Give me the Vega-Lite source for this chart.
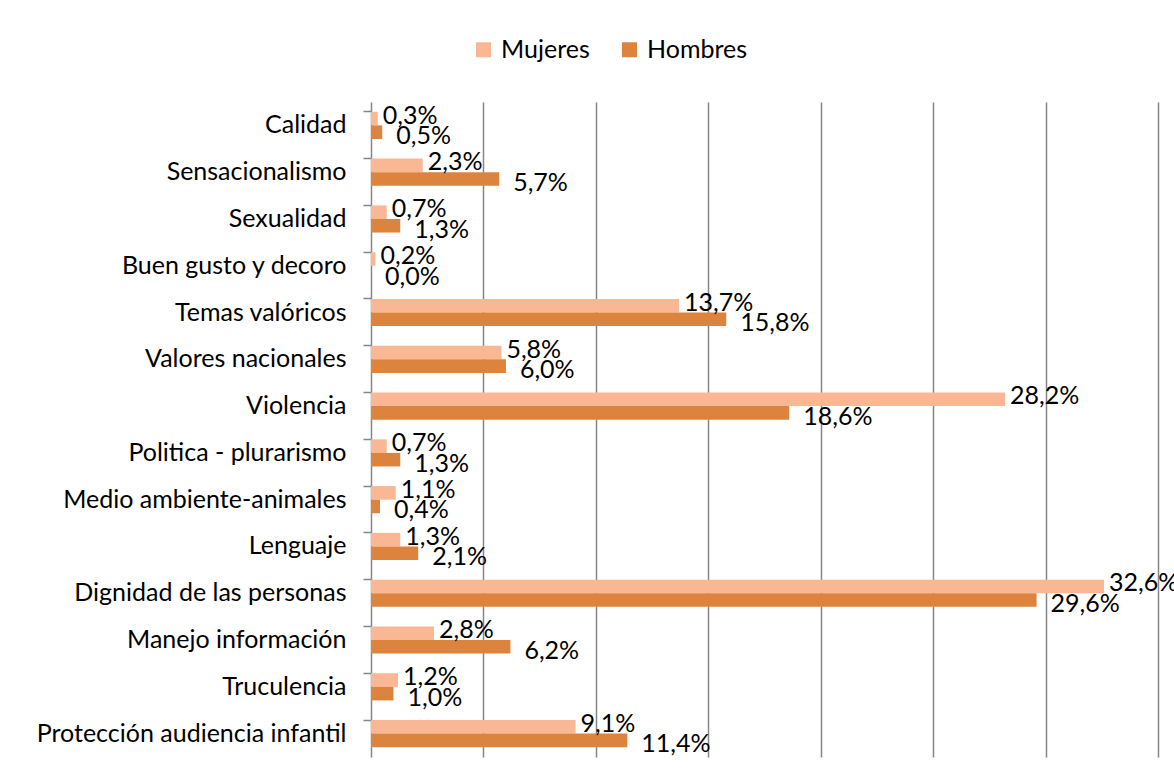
{
  "$schema": "https://vega.github.io/schema/vega-lite/v6.json",
  "autosize": {"type": "none"},
  "width": 787,
  "height": 655,
  "padding": {"left": 371, "top": 102, "right": 16, "bottom": 23},
  "background": "white",
  "config": {
    "view": {"stroke": null},
    "font": "Lato",
    "axis": {"labelFont": "Lato", "titleFont": "Lato"},
    "legend": {"labelFont": "Lato"}
  },
  "data": {
    "values": [
      {"categoria": "Calidad", "sexo": "Mujeres", "valor": 0.3, "etiqueta": "0,3%"},
      {"categoria": "Calidad", "sexo": "Hombres", "valor": 0.5, "etiqueta": "0,5%"},
      {"categoria": "Sensacionalismo", "sexo": "Mujeres", "valor": 2.3, "etiqueta": "2,3%"},
      {"categoria": "Sensacionalismo", "sexo": "Hombres", "valor": 5.7, "etiqueta": "5,7%"},
      {"categoria": "Sexualidad", "sexo": "Mujeres", "valor": 0.7, "etiqueta": "0,7%"},
      {"categoria": "Sexualidad", "sexo": "Hombres", "valor": 1.3, "etiqueta": "1,3%"},
      {"categoria": "Buen gusto y decoro", "sexo": "Mujeres", "valor": 0.2, "etiqueta": "0,2%"},
      {"categoria": "Buen gusto y decoro", "sexo": "Hombres", "valor": 0.0, "etiqueta": "0,0%"},
      {"categoria": "Temas valóricos", "sexo": "Mujeres", "valor": 13.7, "etiqueta": "13,7%"},
      {"categoria": "Temas valóricos", "sexo": "Hombres", "valor": 15.8, "etiqueta": "15,8%"},
      {"categoria": "Valores nacionales", "sexo": "Mujeres", "valor": 5.8, "etiqueta": "5,8%"},
      {"categoria": "Valores nacionales", "sexo": "Hombres", "valor": 6.0, "etiqueta": "6,0%"},
      {"categoria": "Violencia", "sexo": "Mujeres", "valor": 28.2, "etiqueta": "28,2%"},
      {"categoria": "Violencia", "sexo": "Hombres", "valor": 18.6, "etiqueta": "18,6%"},
      {"categoria": "Politica - plurarismo", "sexo": "Mujeres", "valor": 0.7, "etiqueta": "0,7%"},
      {"categoria": "Politica - plurarismo", "sexo": "Hombres", "valor": 1.3, "etiqueta": "1,3%"},
      {"categoria": "Medio ambiente-animales", "sexo": "Mujeres", "valor": 1.1, "etiqueta": "1,1%"},
      {"categoria": "Medio ambiente-animales", "sexo": "Hombres", "valor": 0.4, "etiqueta": "0,4%"},
      {"categoria": "Lenguaje", "sexo": "Mujeres", "valor": 1.3, "etiqueta": "1,3%"},
      {"categoria": "Lenguaje", "sexo": "Hombres", "valor": 2.1, "etiqueta": "2,1%"},
      {"categoria": "Dignidad de las personas", "sexo": "Mujeres", "valor": 32.6, "etiqueta": "32,6%"},
      {"categoria": "Dignidad de las personas", "sexo": "Hombres", "valor": 29.6, "etiqueta": "29,6%"},
      {"categoria": "Manejo información", "sexo": "Mujeres", "valor": 2.8, "etiqueta": "2,8%"},
      {"categoria": "Manejo información", "sexo": "Hombres", "valor": 6.2, "etiqueta": "6,2%"},
      {"categoria": "Truculencia", "sexo": "Mujeres", "valor": 1.2, "etiqueta": "1,2%"},
      {"categoria": "Truculencia", "sexo": "Hombres", "valor": 1.0, "etiqueta": "1,0%"},
      {"categoria": "Protección audiencia infantil", "sexo": "Mujeres", "valor": 9.1, "etiqueta": "9,1%"},
      {"categoria": "Protección audiencia infantil", "sexo": "Hombres", "valor": 11.4, "etiqueta": "11,4%"}
    ]
  },
  "encoding": {
    "y": {
      "field": "categoria",
      "type": "nominal",
      "sort": null,
      "title": null,
      "scale": {"paddingInner": 0.42, "paddingOuter": 0.21},
      "axis": {
        "bandPosition": 0,
        "labelFontSize": 25,
        "labelColor": "#000000",
        "labelPadding": 17,
        "tickSize": 8,
        "tickColor": "#868686",
        "tickWidth": 1.5,
        "domainColor": "#868686",
        "domainWidth": 1.5,
        "grid": false,
        "labelLimit": 400
      }
    },
    "yOffset": {"field": "sexo", "type": "nominal", "sort": ["Mujeres", "Hombres"], "scale": {"paddingInner": 0, "paddingOuter": 0}},
    "x": {
      "field": "valor",
      "type": "quantitative",
      "title": null,
      "scale": {"domain": [0, 35], "nice": false, "zero": true},
      "axis": {
        "values": [5, 10, 15, 20, 25, 30, 35],
        "labels": false,
        "ticks": false,
        "domain": false,
        "grid": true,
        "gridColor": "#868686",
        "gridWidth": 1.5
      }
    }
  },
  "layer": [
    {
      "mark": {"type": "bar"},
      "encoding": {
        "color": {
          "field": "sexo",
          "type": "nominal",
          "sort": ["Mujeres", "Hombres"],
          "scale": {"domain": ["Mujeres", "Hombres"], "range": ["#F9B793", "#DC843E"]},
          "legend": {
            "title": null,
            "orient": "none",
            "direction": "horizontal",
            "legendX": 100,
            "legendY": -65,
            "symbolType": "square",
            "symbolSize": 225,
            "symbolStrokeWidth": 0,
            "labelFontSize": 25,
            "labelColor": "#000000",
            "labelOffset": 5,
            "columnPadding": 27
          }
        }
      }
    },
    {
      "transform": [{"filter": "datum.sexo === 'Mujeres'"}],
      "mark": {"type": "text", "align": "left", "baseline": "middle", "dx": 5, "dy": -3, "fontSize": 25, "color": "#000000"},
      "encoding": {"text": {"field": "etiqueta"}}
    },
    {
      "transform": [{"filter": "datum.sexo === 'Hombres'"}],
      "mark": {"type": "text", "align": "left", "baseline": "middle", "dx": 14, "dy": 4, "fontSize": 25, "color": "#000000"},
      "encoding": {"text": {"field": "etiqueta"}}
    }
  ]
}
